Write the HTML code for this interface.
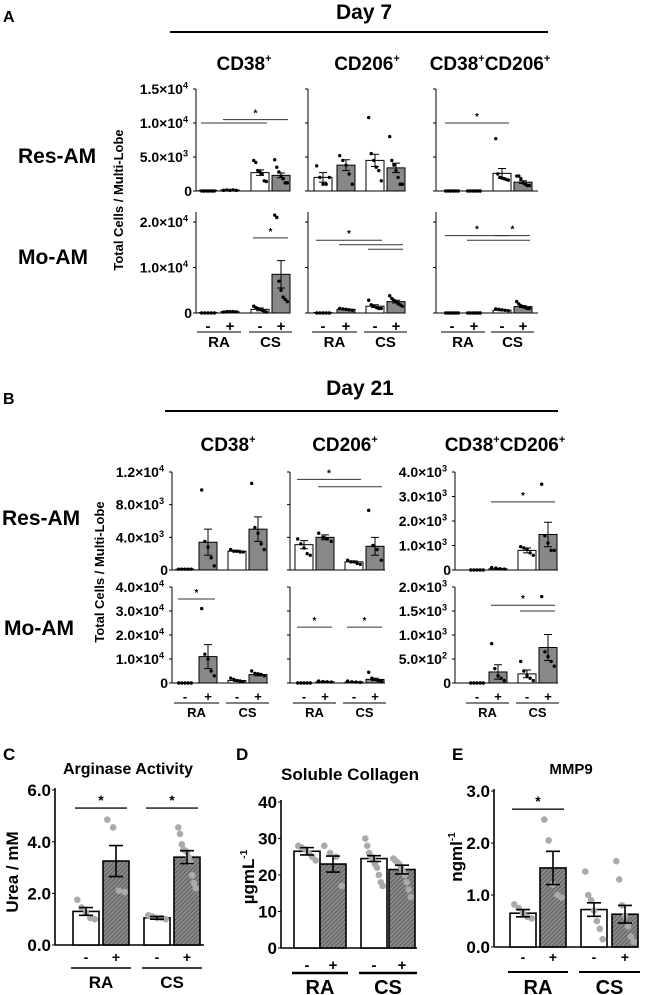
<!DOCTYPE html>
<html><head><meta charset="utf-8"><style>
html,body{margin:0;padding:0;background:#fff}
svg{display:block}
text{font-family:"Liberation Sans",Arial,sans-serif;font-weight:bold;fill:#000}
</style></head><body>
<svg id="fig" width="650" height="995" viewBox="0 0 650 995" xmlns="http://www.w3.org/2000/svg">
<defs>
<pattern id="hatch" patternUnits="userSpaceOnUse" width="3" height="3" patternTransform="rotate(45)">
<rect width="3" height="3" fill="#8a8a8a"/><line x1="0" y1="0" x2="0" y2="3" stroke="#4a4a4a" stroke-width="1.4"/>
</pattern>
</defs>
<g id="static">
<text x="3" y="22" font-size="16">A</text>
<text x="364" y="19" font-size="21" text-anchor="middle">Day 7</text>
<line x1="170" y1="32" x2="548" y2="32" stroke="#000" stroke-width="2"/>
<text x="244" y="70" font-size="19" text-anchor="middle">CD38<tspan font-size="11" dy="-8">+</tspan></text>
<text x="367" y="70" font-size="19" text-anchor="middle">CD206<tspan font-size="11" dy="-8">+</tspan></text>
<text x="490" y="70" font-size="19" text-anchor="middle">CD38<tspan font-size="11" dy="-8">+</tspan><tspan dy="8">CD206</tspan><tspan font-size="11" dy="-8">+</tspan></text>
<text x="18" y="163" font-size="21">Res-AM</text>
<text x="18" y="264" font-size="21">Mo-AM</text>
<text transform="translate(123,200) rotate(-90)" font-size="13" text-anchor="middle">Total Cells / Multi-Lobe</text>

<text x="3" y="404" font-size="16">B</text>
<text x="360" y="395" font-size="21" text-anchor="middle">Day 21</text>
<line x1="165" y1="411" x2="558" y2="411" stroke="#000" stroke-width="2"/>
<text x="228" y="451" font-size="19" text-anchor="middle">CD38<tspan font-size="11" dy="-8">+</tspan></text>
<text x="345" y="451" font-size="19" text-anchor="middle">CD206<tspan font-size="11" dy="-8">+</tspan></text>
<text x="505" y="451" font-size="19" text-anchor="middle">CD38<tspan font-size="11" dy="-8">+</tspan><tspan dy="8">CD206</tspan><tspan font-size="11" dy="-8">+</tspan></text>
<text x="2" y="525" font-size="21">Res-AM</text>
<text x="4" y="635" font-size="21">Mo-AM</text>
<text transform="translate(104,572) rotate(-90)" font-size="13" text-anchor="middle">Total Cells / Multi-Lobe</text>

<text x="3" y="760" font-size="17">C</text>
<text x="128" y="774" font-size="16" text-anchor="middle">Arginase Activity</text>
<text transform="translate(18,872) rotate(-90)" font-size="17" text-anchor="middle">Urea / mM</text>
<text x="236" y="760" font-size="17">D</text>
<text x="350" y="780" font-size="17" text-anchor="middle">Soluble Collagen</text>
<text transform="translate(254,877) rotate(-90)" font-size="17" text-anchor="middle">µgmL<tspan font-size="10" dy="-7">-1</tspan></text>
<text x="452" y="760" font-size="17">E</text>
<text x="571" y="774" font-size="15" text-anchor="middle">MMP9</text>
<text transform="translate(462,857) rotate(-90)" font-size="17" text-anchor="middle">ngml<tspan font-size="10" dy="-7">-1</tspan></text>
</g>
</svg>
<script>
// ---------- data ----------
const groups = ["RA-", "RA+", "CS-", "CS+"];
// Panel A, Res-AM
const aR1C1Means=[100,150,2700,2300], aR1C1Sem=[20,20,400,350];
const aR1C1Pts=[[0,0,0,0,0,0],[100,150,100,150,100],[4500,4200,3000,2800,2500,1500,1400],[4600,3500,2800,2200,1800,1200,1200]];
const aR1C2Means=[2000,3800,4500,3400], aR1C2Sem=[700,800,900,700];
const aR1C2Pts=[[3700,2000,1000,1000,2000],[5200,4500,3800,2500,1000],[10800,5500,4500,3500,3000,1500],[8000,4500,3800,3000,2000,1000,1000]];
const aR1C3Means=[0,0,2600,1300], aR1C3Sem=[0,0,700,200];
const aR1C3Pts=[[0,0,0,0,0,0],[0,0,0,0,0,0],[7700,2500,2000,1900,1800,1700,1600],[2200,2200,1800,1200,1000,800,800]];
// Panel A, Mo-AM
const aR2C1Means=[100,300,800,8500], aR2C1Sem=[50,80,300,3000];
const aR2C1Pts=[[0,0,0,0,0],[200,300,300,300,250],[1500,1200,1000,800,600,400,200],[21500,21000,7000,5000,3500,3000,2500]];
const aR2C2Means=[100,800,1500,2500], aR2C2Sem=[50,100,300,300];
const aR2C2Pts=[[0,0,0,0,0],[1000,900,800,700,600],[2800,1800,1500,1200,1000,1000],[3800,3200,2800,2500,2000,1800,1500]];
const aR2C3Means=[0,0,600,1400], aR2C3Sem=[0,0,100,200];
const aR2C3Pts=[[0,0,0,0,0,0],[0,0,0,0,0,0],[900,800,700,600,500],[2500,2000,1600,1400,1200,1000,1000]];
// Panel B, Res-AM
const bR1C1Means=[100,3400,2300,5000], bR1C1Sem=[50,1600,100,1500];
const bR1C1Pts=[[100,100,100,100,100],[9800,3500,2800,1500,500],[2500,2300,2300,2200,2200],[10600,5200,4500,3200,2500]];
const bR1C2Means=[3100,4000,1000,2900], bR1C2Sem=[500,300,100,1100];
const bR1C2Pts=[[3800,3200,2700,2000,1800],[4500,4000,3800,3500],[1200,1000,1000,800,700],[7300,3000,2500,1200]];
const bR1C3Means=[0,50,800,1450], bR1C3Sem=[0,20,100,500];
const bR1C3Pts=[[0,0,0,0,0],[100,80,50,40],[950,900,850,700,600],[3500,1400,1100,800,800]];
// Panel B, Mo-AM
const bR2C1Means=[0,11000,1000,3500], bR2C1Sem=[0,5000,300,500];
const bR2C1Pts=[[0,0,0,0,0],[31000,12000,10000,5000,3000],[2000,1500,1000,800,600],[5000,4000,3800,3500,3000]];
const bR2C2Means=[0,500,400,1500], bR2C2Sem=[0,200,100,500];
const bR2C2Pts=[[0,0,0,0,0],[800,600,500,400],[800,500,400,300],[4500,2000,1500,1000,800]];
const bR2C3Means=[0,230,190,740], bR2C3Sem=[0,150,80,270];
const bR2C3Pts=[[0,0,0,0,0],[820,300,150,100,50],[450,250,150,100,50],[1800,650,550,450,350]];
// Panels C, D, E
const cMeans=[1.3,3.25,1.05,3.4], cSem=[0.15,0.6,0.05,0.25];
const cPts=[[1.75,1.45,1.25,1.05,1.0],[4.85,4.55,2.1,2.05],[1.15,1.1,1.05,1.05,1.0],[4.55,4.3,3.9,3.7,3.65,3.6,3.4,3.2,2.7,2.4,2.2]];
const dMeans=[26.5,23,24.5,21.5], dSem=[1,2.2,0.8,1.2];
const dPts=[[28,27.5,27,26,25,24],[28,26,25,17],[30,28,26,25,24,23,22,20,18,17],[24.5,24,23.5,23,22,21,20,18,16,14]];
const eMeans=[0.65,1.52,0.72,0.63], eSem=[0.07,0.32,0.13,0.17];
const ePts=[[0.82,0.75,0.65,0.58,0.55],[2.45,2.05,1.2,1.0,0.95],[1.45,1.0,0.9,0.7,0.5,0.35,0.15],[1.65,1.3,0.8,0.6,0.4,0.2,0.1]];
// tick labels
const tickA1=[[0,"0"],[5000,"5.0×10","3"],[10000,"1.0×10","4"],[15000,"1.5×10","4"]];
const tickA2=[[0,"0"],[10000,"1.0×10","4"],[20000,"2.0×10","4"]];
const tickB1=[[0,"0"],[4000,"4.0×10","3"],[8000,"8.0×10","3"],[12000,"1.2×10","4"]];
const tickB1c3=[[0,"0"],[1000,"1.0×10","3"],[2000,"2.0×10","3"],[3000,"3.0×10","3"],[4000,"4.0×10","3"]];
const tickB2=[[0,"0"],[10000,"1.0×10","4"],[20000,"2.0×10","4"],[30000,"3.0×10","4"],[40000,"4.0×10","4"]];
const tickB2c3=[[0,"0"],[500,"5.0×10","2"],[1000,"1.0×10","3"],[1500,"1.5×10","3"],[2000,"2.0×10","3"]];
const tickC=[[0,"0.0"],[2,"2.0"],[4,"4.0"],[6,"6.0"]];
const tickD=[[0,"0"],[10,"10"],[20,"20"],[30,"30"],[40,"40"]];
const tickE=[[0,"0.0"],[1,"1.0"],[2,"2.0"],[3,"3.0"]];
// significance bars: [fromGroup, toGroup, value, star]
const sigAR1C1=[[0,2,10000,0],[1,3,10500,1]];
const sigAR1C3=[[0,2,10000,1]];
const sigAR2C1=[[2,3,16500,1]];
const sigAR2C2=[[0,2,16000,1],[1,3,15000,0],[2,3,14000,0]];
const sigAR2C3=[[0,2,17000,1],[2,3,17000,1],[1,3,16000,0]];
const sigBR1C2=[[0,2,11100,1],[1,3,10200,0]];
const sigBR1C3=[[1,3,2780,1]];
const sigBR2C1=[[0,1,35000,1]];
const sigBR2C2=[[0,1,23300,1],[2,3,23300,1]];
const sigBR2C3=[[1,3,1620,1],[2,3,1500,0]];
const sigC=[[0,1,5.3,1],[2,3,5.3,1]];
const sigE=[[0,1,2.65,1]];

// ---------- drawing ----------
const NS="http://www.w3.org/2000/svg";
const svg=document.getElementById("fig");
function el(tag,attrs,parent){const e=document.createElementNS(NS,tag);for(const k in attrs)e.setAttribute(k,attrs[k]);(parent||svg).appendChild(e);return e;}

function panel(id,c,means,sem,pts,ticks,sig){
  const g=el("g",{});
  
  
  const y=v=>c.y0-v/c.vmax*(c.y0-c.yTop);
  const ax=el("line",{x1:c.ax,y1:c.axTop,x2:c.ax,y2:c.y0,stroke:"#000","stroke-width":c.lw},g);
  
  
  const bx=el("line",{x1:c.ax,y1:c.y0,x2:c.axEnd,y2:c.y0,stroke:"#000","stroke-width":c.lw},g);
  
  
  ticks.forEach(t=>{
    const ty=y(t[0]);
    el("line",{x1:c.ax-3,y1:ty,x2:c.ax,y2:ty,stroke:"#000","stroke-width":1},g);
    if(c.labels){
      const tx=el("text",{x:c.ax-(t[2]?8:4),y:ty+c.fs*0.36,"font-size":c.fs,"text-anchor":"end"},g);
      
      
      tx.textContent=t[1];
      if(t[2]){const s=el("tspan",{"font-size":c.fs*0.65,dy:-c.fs*0.4},tx);s.textContent=t[2];}
    }
  });
  means.forEach((m,i)=>{
    const cx=c.gx[i],plus=i%2===1;
    const fill=plus?(c.hatch?"url(#hatch)":"#888"):"#fff";
    const top=y(m);
    const r=el("rect",{x:cx-c.bw/2,y:top,width:c.bw,height:Math.max(0,c.y0-top),fill:fill,stroke:"#000","stroke-width":c.lw},g);
    
    
    const ps=pts[i],n=ps.length,sp=Math.min(3.2*c.pr,(c.bw-c.pr*2-2)/Math.max(1,n-1));
    ps.forEach((v,j)=>{
      const p=el("circle",{cx:cx+(j-(n-1)/2)*sp,cy:y(v),r:c.pr,fill:c.pc},g);
      
      
    });
    if(sem[i]>0){
      const e1=y(m+sem[i]),e2=y(Math.max(0,m-sem[i]));
      const eb=el("path",{d:`M${cx},${e1}V${e2}M${cx-c.cap},${e1}H${cx+c.cap}M${cx-c.cap},${e2}H${cx+c.cap}`,stroke:"#000","stroke-width":c.lw,fill:"none"},g);
      
      
    }
  });
  sig.forEach(s=>{
    const sy=y(s[2]),xa=c.gx[s[0]]-c.bw/2+2,xb=c.gx[s[1]]+c.bw/2-2;
    const l=el("line",{x1:xa,y1:sy,x2:xb,y2:sy,stroke:"#333","stroke-width":c.lw},g);
    
    
    if(s[3]){
      const st=el("text",{x:(xa+xb)/2,y:sy-3,"font-size":c.star,"text-anchor":"middle"},g);
      
      
      st.textContent="*";
    }
  });
  if(c.xl){
    const [pmY,lnY,lbY,fs,lfs]=c.xl;
    groups.forEach((gname,i)=>{
      const t=el("text",{x:c.gx[i],y:pmY,"font-size":fs,"text-anchor":"middle"},g);
      
      
      t.textContent=i%2?"+":"-";
    });
    ["RA","CS"].forEach((lab,k)=>{
      const xa=c.gx[2*k]-c.bw/2-2,xb=c.gx[2*k+1]+c.bw/2+2;
      el("line",{x1:xa,y1:lnY,x2:xb,y2:lnY,stroke:"#000","stroke-width":c.xlw},g);
      const t=el("text",{x:(xa+xb)/2,y:lbY,"font-size":lfs,"text-anchor":"middle"},g);
      
      
      t.textContent=lab;
    });
  }
}
const small={bw:18,lw:1,cap:4,pr:1.7,pc:"#000",fs:14,star:10,xlw:1};
const xlA=[331,332,347,15,15], xlB=[701,703,717,13,13];
function S(o){return Object.assign({},small,o);}
// Panel A
panel("a-res-cd38",S({ax:196,axEnd:290,axTop:89,y0:191,yTop:89,vmax:15000,labels:true,gx:[208,230,260,281]}),aR1C1Means,aR1C1Sem,aR1C1Pts,tickA1,sigAR1C1);
panel("a-res-cd206",S({ax:308,axEnd:403,axTop:89,y0:191,yTop:89,vmax:15000,labels:false,gx:[323,346,375,396]}),aR1C2Means,aR1C2Sem,aR1C2Pts,tickA1,[]);
panel("a-res-cd38cd206",S({ax:436,axEnd:538,axTop:89,y0:191,yTop:89,vmax:15000,labels:false,gx:[452,474,502,523]}),aR1C3Means,aR1C3Sem,aR1C3Pts,tickA1,sigAR1C3);
panel("a-mo-cd38",S({ax:196,axEnd:290,axTop:212,y0:313,yTop:222,vmax:20000,labels:true,gx:[208,230,260,281],xl:xlA}),aR2C1Means,aR2C1Sem,aR2C1Pts,tickA2,sigAR2C1);
panel("a-mo-cd206",S({ax:308,axEnd:403,axTop:212,y0:313,yTop:222,vmax:20000,labels:false,gx:[323,346,375,396],xl:xlA}),aR2C2Means,aR2C2Sem,aR2C2Pts,tickA2,sigAR2C2);
panel("a-mo-cd38cd206",S({ax:436,axEnd:538,axTop:212,y0:313,yTop:222,vmax:20000,labels:false,gx:[452,474,502,523],xl:xlA}),aR2C3Means,aR2C3Sem,aR2C3Pts,tickA2,sigAR2C3);
// Panel B
panel("b-res-cd38",S({ax:172,axEnd:268,axTop:472,y0:570,yTop:472,vmax:12000,labels:true,gx:[185,208,237,258]}),bR1C1Means,bR1C1Sem,bR1C1Pts,tickB1,[]);
panel("b-res-cd206",S({ax:290,axEnd:385,axTop:472,y0:570,yTop:472,vmax:12000,labels:false,gx:[304,325,354,375]}),bR1C2Means,bR1C2Sem,bR1C2Pts,tickB1,sigBR1C2);
panel("b-res-cd38cd206",S({ax:455,axEnd:558,axTop:472,y0:570,yTop:472,vmax:4000,labels:true,gx:[477,498,527,548]}),bR1C3Means,bR1C3Sem,bR1C3Pts,tickB1c3,sigBR1C3);
panel("b-mo-cd38",S({ax:172,axEnd:268,axTop:587,y0:683,yTop:587,vmax:40000,labels:true,gx:[185,208,237,258],xl:xlB}),bR2C1Means,bR2C1Sem,bR2C1Pts,tickB2,sigBR2C1);
panel("b-mo-cd206",S({ax:290,axEnd:385,axTop:587,y0:683,yTop:587,vmax:40000,labels:false,gx:[304,325,354,375],xl:xlB}),bR2C2Means,bR2C2Sem,bR2C2Pts,tickB2,sigBR2C2);
panel("b-mo-cd38cd206",S({ax:455,axEnd:558,axTop:587,y0:683,yTop:587,vmax:2000,labels:true,gx:[477,498,527,548],xl:xlB}),bR2C3Means,bR2C3Sem,bR2C3Pts,tickB2c3,sigBR2C3);
// Panels C, D, E
const big={bw:26,lw:1.6,cap:7,pr:3.3,pc:"#aaa",fs:17,star:14,xlw:1.6,hatch:true};
function B(o){return Object.assign({},big,o);}
panel("c-arginase",B({ax:55,axEnd:204,axTop:788,y0:945,yTop:790,vmax:6,labels:true,gx:[86,116,157,187],xl:[962,968,988,14,17]}),cMeans,cSem,cPts,tickC,sigC);
panel("d-collagen",B({ax:281,axEnd:417,axTop:800,y0:948,yTop:802,vmax:40,labels:true,gx:[307,333,374,402],xl:[970,973,994,15,20],xlw:2.5}),dMeans,dSem,dPts,tickD,[]);
panel("e-mmp9",B({ax:494,axEnd:637,axTop:789,y0:947,yTop:791,vmax:3,labels:true,gx:[523,553,594,625],xl:[962,972,994,14,20],xlw:2}),eMeans,eSem,ePts,tickE,sigE);
</script>
</body></html>
